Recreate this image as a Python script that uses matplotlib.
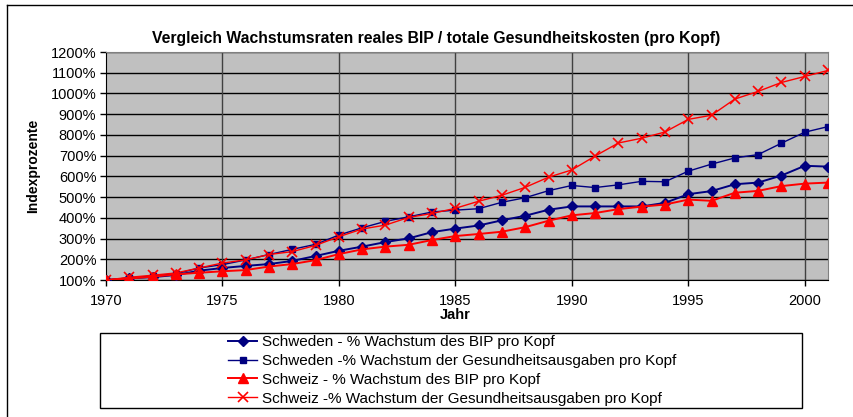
import numpy as np
import matplotlib
matplotlib.use("Agg")
import matplotlib.pyplot as plt
from matplotlib.ticker import FuncFormatter, MultipleLocator

plt.rcParams['font.family'] = ['Liberation Sans', 'DejaVu Sans']

years = list(range(1970, 2002))

# Index in percent (1970 = 100%)
schweden_bip = [100, 108, 114, 124, 145, 158, 168, 177, 192, 216, 241, 261, 283, 301, 331, 348,
                363, 388, 410, 439, 455, 455, 455, 455, 472, 514, 529, 562, 570, 604, 651, 647]
schweden_gesund = [100, 110, 119, 130, 158, 174, 197, 223, 248, 272, 317, 352, 383, 405, 428, 437,
                   444, 475, 497, 531, 556, 546, 559, 576, 574, 625, 659, 689, 705, 760, 813, 840]
schweiz_bip = [100, 107, 116, 127, 135, 142, 148, 165, 177, 196, 225, 248, 261, 270, 293, 312,
               322, 333, 355, 386, 412, 423, 442, 454, 464, 488, 482, 521, 530, 553, 565, 570]
schweiz_gesund = [100, 113, 123, 134, 158, 182, 197, 223, 237, 267, 309, 346, 365, 402, 421, 446,
                  480, 509, 547, 596, 631, 698, 761, 784, 814, 875, 895, 973, 1010, 1053, 1082, 1111]

labels = ["Schweden - % Wachstum des BIP pro Kopf",
          "Schweden -% Wachstum der Gesundheitsausgaben pro Kopf",
          "Schweiz - % Wachstum des BIP pro Kopf",
          "Schweiz -% Wachstum der Gesundheitsausgaben pro Kopf"]

W, H = 854, 417
fig = plt.figure(figsize=(W / 100, H / 100), dpi=100)
fig.patch.set_facecolor('white')

# outer chart border (only top/left visible in the crop)
fig.add_artist(plt.Line2D([7 / W, 7 / W], [0, 1 - 5 / H], color='black', lw=1, transform=fig.transFigure))
fig.add_artist(plt.Line2D([7 / W, 1], [1 - 5 / H, 1 - 5 / H], color='black', lw=1, transform=fig.transFigure))

left, right, bottom, top = 106, 828, 280, 52
ax = fig.add_axes([left / W, 1 - bottom / H, (right - left) / W, (bottom - top) / H])
ax.set_facecolor('#C0C0C0')

ax.plot(years, schweden_bip, color='#000080', lw=1.4, marker='D', ms=5.5, label=labels[0], zorder=3)
ax.plot(years, schweden_gesund, color='#000080', lw=1.0, marker='s', ms=4.5, label=labels[1], zorder=3)
ax.plot(years, schweiz_bip, color='#FF0000', lw=1.4, marker='^', ms=7, label=labels[2], zorder=3)
ax.plot(years, schweiz_gesund, color='#FF0000', lw=1.0, marker='x', ms=7, mew=1.2, label=labels[3], zorder=3)

ax.set_xlim(1970, 2001)
ax.set_ylim(100, 1200)
ax.yaxis.set_major_locator(MultipleLocator(100))
ax.yaxis.set_major_formatter(FuncFormatter(lambda v, p: f"{int(round(v))}%"))
ax.set_xticks(range(1970, 2001, 5))
ax.grid(axis='y', color='black', lw=1)
for x in range(1975, 2001, 5):
    ax.axvline(x, color='#404040', lw=1, zorder=1)
ax.set_axisbelow(True)

for s in ['top', 'right']:
    ax.spines[s].set_color('#808080')
for s in ['left', 'bottom']:
    ax.spines[s].set_color('black')
ax.tick_params(axis='both', direction='out', length=4, width=1, labelsize=10.5, colors='black', pad=3)
ax.tick_params(axis='x', pad=6)

fig.text(436 / W, 1 - 38 / H, "Vergleich Wachstumsraten reales BIP / totale Gesundheitskosten (pro Kopf)",
         ha='center', va='center', fontsize=11.3, fontweight='bold')
fig.text(33 / W, 1 - 166 / H, "Indexprozente", rotation=90, ha='center', va='center',
         fontsize=10, fontweight='bold')
fig.text(455 / W, 1 - 315 / H, "Jahr", ha='center', va='center', fontsize=10.5, fontweight='bold')

# legend frame
fig.add_artist(plt.Rectangle((100 / W, 1 - 408 / H), 702 / W, 75 / H, fill=False, edgecolor='black',
                             lw=1, transform=fig.transFigure))
leg = fig.legend(loc='upper left', bbox_to_anchor=(228 / W, 1 - 335 / H), frameon=False, fontsize=11,
                 handlelength=1.9, handletextpad=0.33, labelspacing=0.32, borderpad=0, borderaxespad=0)

fig.savefig("out.png", dpi=100)
